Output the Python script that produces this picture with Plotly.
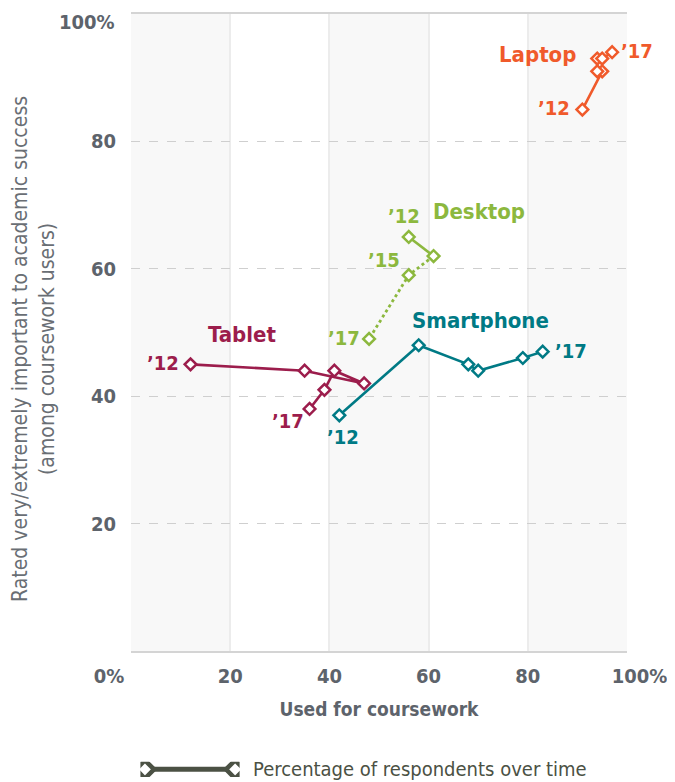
import plotly.graph_objects as go

# values (x: used for coursework, y: rated important)
laptop_x = [91, 95, 94, 94, 95, 97]
laptop_y = [85, 91, 91, 93, 93, 94]

desktop_x = [56, 61, 56, 48]
desktop_y = [65, 62, 59, 49]

smartphone_x = [42, 58, 68, 70, 79, 83]
smartphone_y = [37, 48, 45, 44, 46, 47]

tablet_x = [12, 35, 47, 41, 39, 36]
tablet_y = [45, 44, 42, 44, 41, 38]

x_ticks = [0, 20, 40, 60, 80, 100]
x_ticktext = ["0%" + "\u00a0" * 7, "20", "40", "60", "80", "\u00a0\u00a0\u00a0\u00a0100%"]
y_ticks = [20, 40, 60, 80, 100]
y_ticktext = ["20", "40", "60", "80", "100%"]

LAPTOP = "#f05a2b"
DESKTOP = "#8cb83e"
SMART = "#007a85"
TABLET = "#9c1d4c"
GREY = "#5d636b"
FONT = "'DejaVu Sans Condensed', 'Liberation Sans Narrow', Roboto, sans-serif"


def marker(color):
    return dict(symbol="diamond", size=9, color="white", line=dict(color=color, width=2.5))


fig = go.Figure()

fig.add_trace(go.Scatter(x=laptop_x, y=laptop_y, mode="lines+markers",
                         line=dict(color=LAPTOP, width=2.6), marker=marker(LAPTOP)))
# desktop: solid first step, dotted afterwards
fig.add_trace(go.Scatter(x=desktop_x[1:], y=desktop_y[1:], mode="lines",
                         line=dict(color=DESKTOP, width=2.8, dash="dot")))
fig.add_trace(go.Scatter(x=desktop_x[:2], y=desktop_y[:2], mode="lines",
                         line=dict(color=DESKTOP, width=2.6)))
fig.add_trace(go.Scatter(x=desktop_x, y=desktop_y, mode="markers", marker=marker(DESKTOP)))
fig.add_trace(go.Scatter(x=smartphone_x, y=smartphone_y, mode="lines+markers",
                         line=dict(color=SMART, width=2.6), marker=marker(SMART)))
fig.add_trace(go.Scatter(x=tablet_x, y=tablet_y, mode="lines+markers",
                         line=dict(color=TABLET, width=2.6), marker=marker(TABLET)))

# legend key on its own little axis
fig.add_trace(go.Scatter(x=[0, 1], y=[0, 0], mode="lines+markers", xaxis="x2", yaxis="y2",
                         line=dict(color="#4b5144", width=5),
                         marker=dict(symbol="diamond", size=14, color="white",
                                     line=dict(color="#4b5144", width=4.5))))

# alternating vertical bands
for i in range(0, len(x_ticks) - 1, 2):
    fig.add_shape(type="rect", xref="x", yref="y", x0=x_ticks[i], x1=x_ticks[i + 1],
                  y0=0, y1=100, fillcolor="#f8f8f8", line_width=0, layer="below")


def label(text, x, y, color, size=20, **kw):
    fig.add_annotation(text=f"<b>{text}</b>", x=x, y=y, xref="x", yref="y", showarrow=False,
                       font=dict(color=color, size=size, family=FONT), **kw)


label("Laptop", laptop_x[3], laptop_y[3], LAPTOP, 22, xanchor="right", xshift=-19, yshift=4)
label("’12", laptop_x[0], laptop_y[0], LAPTOP, xanchor="right", xshift=-10, yshift=2)
label("’17", laptop_x[-1], laptop_y[-1], LAPTOP, xanchor="left", xshift=7, yshift=1)

label("Desktop", desktop_x[0], desktop_y[0], DESKTOP, 22, xanchor="left", xshift=22, yshift=25)
label("’12", desktop_x[0], desktop_y[0], DESKTOP, yshift=21, xshift=-5)
label("’15", desktop_x[2], desktop_y[2], DESKTOP, xanchor="right", xshift=-7, yshift=15)
label("’17", desktop_x[3], desktop_y[3], DESKTOP, xanchor="right", xshift=-7, yshift=1)

label("Smartphone", smartphone_x[1], smartphone_y[1], SMART, 22, xanchor="left", xshift=-9, yshift=25)
label("’12", smartphone_x[0], smartphone_y[0], SMART, xshift=4, yshift=-22)
label("’17", smartphone_x[-1], smartphone_y[-1], SMART, xanchor="left", xshift=10, yshift=1)

label("Tablet", tablet_x[0], tablet_y[0], TABLET, 22, xanchor="left", xshift=15, yshift=30)
label("’12", tablet_x[0], tablet_y[0], TABLET, xanchor="right", xshift=-10, yshift=1)
label("’17", tablet_x[-1], tablet_y[-1], TABLET, xanchor="right", xshift=-4, yshift=-12)

# top y label sits a little below its gridline, as in the original
fig.add_annotation(text=y_ticktext[-1], x=0, y=y_ticks[-1], xref="paper", yref="y",
                   xanchor="right", yanchor="middle", xshift=-14, yshift=-8, showarrow=False,
                   font=dict(size=20, color=GREY, family=FONT, weight=600))

fig.add_annotation(text="Percentage of respondents over time", x=1, y=0, xref="x2", yref="y2",
                   xanchor="left", xshift=16, showarrow=False,
                   font=dict(color="#4b5144", size=20, family=FONT))

fig.add_annotation(text="Rated very/extremely important to academic success<br>(among coursework users)",
                   x=-0.1956, y=0.561, xref="paper", yref="paper", textangle=-90,
                   xanchor="center", yanchor="middle", showarrow=False,
                   font=dict(size=21, color="#696e74", family=FONT))

# page body adds an 8px offset, so the figure is drawn 8px smaller
fig.update_layout(
    width=667, height=774,
    margin=dict(l=123, r=48, t=6, b=5),
    paper_bgcolor="white", plot_bgcolor="white",
    showlegend=False,
    font=dict(family=FONT, color=GREY),
    xaxis=dict(range=[0, 100], tickvals=x_ticks, ticktext=x_ticktext, domain=[0, 1],
               showgrid=True, gridcolor="#ececec", gridwidth=2, zeroline=False,
               showline=True, linecolor="#d4d4d4", linewidth=2, mirror=True,
               ticks="", ticklabelstandoff=6, automargin=False, ticklabeloverflow="allow",
               tickfont=dict(size=20, color=GREY, weight=600),
               title=dict(text="Used for coursework", standoff=16,
                          font=dict(size=19, color=GREY, weight=600))),
    yaxis=dict(range=[0, 100], tickvals=y_ticks, ticktext=y_ticktext[:-1] + [""],
               domain=[0.1651, 1],
               showgrid=True, gridcolor="#cfcfcf", gridwidth=1, griddash="dash",
               zeroline=False, showline=False, ticks="", ticklabelstandoff=14,
               automargin=False, ticklabeloverflow="allow",
               tickfont=dict(size=20, color=GREY, weight=600)),
    xaxis2=dict(domain=[0.019, 0.219], range=[-0.05, 1.05], anchor="y2",
                visible=False, fixedrange=True),
    yaxis2=dict(domain=[0, 0.02], range=[-1, 1], anchor="x2", visible=False, fixedrange=True),
)

fig.write_html("out.html")
